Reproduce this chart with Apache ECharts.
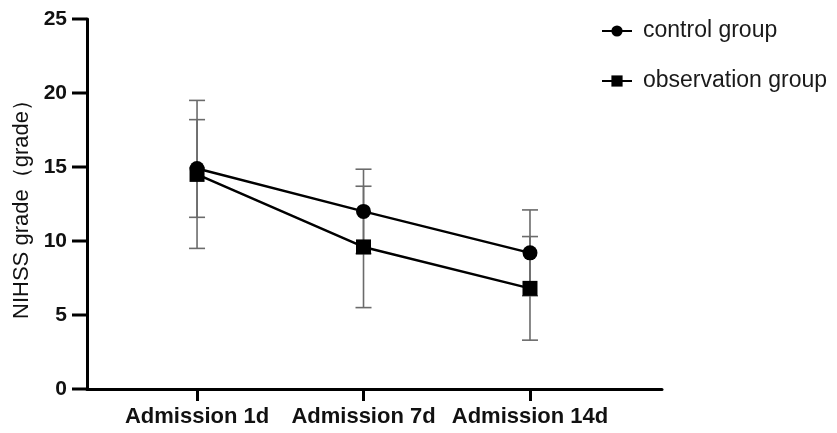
<!DOCTYPE html>
<html><head><meta charset="utf-8">
<script src="https://cdn.jsdelivr.net/npm/echarts@6/dist/echarts.min.js"></script>
<style>html,body{margin:0;padding:0;background:#fff}#c{width:837px;height:433px}</style>
</head><body><div id="c"></div>
<script>
const categories = ['Admission 1d', 'Admission 7d', 'Admission 14d'];
const controlMean = [14.9, 12.0, 9.2];
const controlSD = [3.3, 2.85, 2.9];
const obsMean = [14.5, 9.6, 6.8];
const obsSD = [5.0, 4.1, 3.5];
const yTicks = [0, 5, 10, 15, 20, 25];
const xMin = 0.339, xMax = 3.793;

const chart = echarts.init(document.getElementById('c'));
function pts(m){ return m.map((v,i)=>[i+1, v]); }
function errData(m, s){ return m.map((v,i)=>[i+1, v - s[i], v + s[i]]); }
function errRender(params, api){
  const x = api.value(0);
  const lo = api.coord([x, api.value(1)]);
  const hi = api.coord([x, api.value(2)]);
  const hw = 8;
  const st = {stroke: '#6b6b6b', lineWidth: 1.6};
  return {type:'group', children:[
    {type:'line', shape:{x1:lo[0], y1:lo[1], x2:hi[0], y2:hi[1]}, style:st},
    {type:'line', shape:{x1:lo[0]-hw, y1:lo[1], x2:lo[0]+hw, y2:lo[1]}, style:st},
    {type:'line', shape:{x1:hi[0]-hw, y1:hi[1], x2:hi[0]+hw, y2:hi[1]}, style:st}
  ]};
}
function yTickRender(params, api){
  const p = api.coord([api.value(0), api.value(1)]);
  return {type:'line', shape:{x1:p[0]-15, y1:p[1], x2:p[0], y2:p[1]}, style:{stroke:'#000', lineWidth:3}};
}
chart.setOption({
  animation:false,
  grid:{left:87, right:175, top:19, bottom:44},
  legend:{
    orient:'vertical', left:596, top:14, itemWidth:30, itemHeight:14, itemGap:26,
    textStyle:{fontFamily:'Liberation Sans, Arial', fontSize:23, lineHeight:24, color:'#1a1a1a', padding:[0,0,0,6]},
    data:['control group','observation group']
  },
  xAxis:{
    type:'value', min:xMin, max:xMax,
    splitLine:{show:false},
    axisLine:{onZero:false, lineStyle:{color:'#000', width:3}},
    axisTick:{customValues:[1,2,3], length:12, lineStyle:{color:'#000', width:3}},
    axisLabel:{customValues:[1,2,3], formatter:v=>categories[Math.round(v)-1], fontFamily:'Liberation Sans, Arial', fontWeight:'bold', fontSize:22, color:'#111', margin:17}
  },
  yAxis:{
    type:'value', min:0, max:25, interval:5,
    name:'NIHSS grade（grade）', nameLocation:'middle', nameGap:54,
    nameTextStyle:{fontFamily:'Liberation Sans, Arial', fontSize:22, color:'#111'},
    splitLine:{show:false},
    axisLine:{show:true, onZero:false, lineStyle:{color:'#000', width:3}},
    axisTick:{show:false},
    axisLabel:{formatter:v=>String(v), fontFamily:'Liberation Sans, Arial', fontWeight:'bold', fontSize:21, color:'#111', margin:20}
  },
  series:[
    {type:'custom', renderItem:yTickRender, data:yTicks.map(v=>[xMin, v]), encode:{x:0, y:1}, clip:false, silent:true, z:5},
    {type:'custom', renderItem:errRender, data:errData(controlMean, controlSD), z:1, silent:true},
    {type:'custom', renderItem:errRender, data:errData(obsMean, obsSD), z:1, silent:true},
    {name:'control group', type:'line', data:pts(controlMean), symbol:'circle', symbolSize:15,
     itemStyle:{color:'#000'}, lineStyle:{color:'#000', width:2.5}, z:3},
    {name:'observation group', type:'line', data:pts(obsMean), symbol:'rect', symbolSize:15,
     itemStyle:{color:'#000'}, lineStyle:{color:'#000', width:2.5}, z:3}
  ]
});
</script></body></html>
